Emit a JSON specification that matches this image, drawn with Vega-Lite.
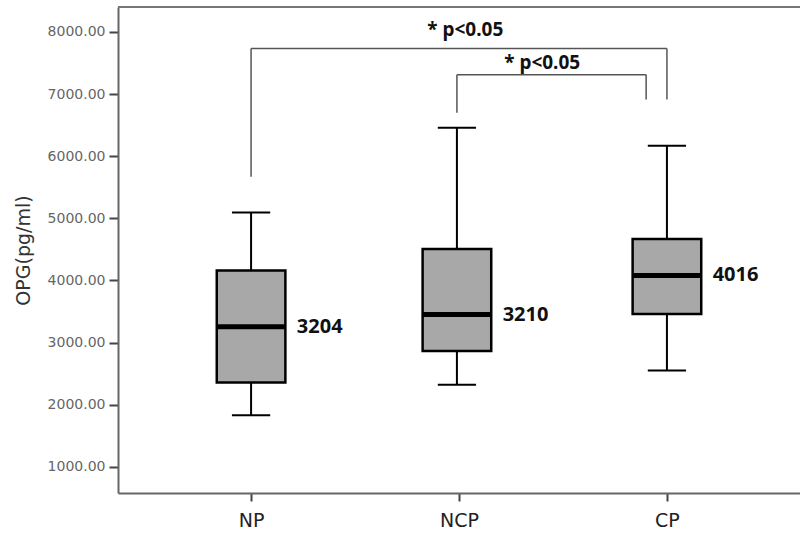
{
  "$schema": "https://vega.github.io/schema/vega-lite/v6.json",
  "width": 682,
  "height": 486,
  "autosize": {"type": "none"},
  "padding": {"left": 118, "top": 7, "right": 0, "bottom": 46},
  "background": "white",
  "config": {"view": {"stroke": null}},
  "datasets": {
    "boxes": [
      {"group": "NP", "pos": 1, "lo": 1833, "q1": 2357, "med": 3254, "q3": 4161, "hi": 5095, "label": "3204"},
      {"group": "NCP", "pos": 1.99, "lo": 2320, "q1": 2863, "med": 3452, "q3": 4506, "hi": 6459, "label": "3210"},
      {"group": "CP", "pos": 3, "lo": 2551, "q1": 3459, "med": 4080, "q3": 4667, "hi": 6169, "label": "4016"}
    ],
    "brackets": [
      {"x": 1, "x2": 1, "y": 5670, "y2": 7731},
      {"x": 1, "x2": 3, "y": 7731, "y2": 7731},
      {"x": 3, "x2": 3, "y": 6910, "y2": 7731},
      {"x": 1.99, "x2": 1.99, "y": 6700, "y2": 7308},
      {"x": 1.99, "x2": 2.9, "y": 7308, "y2": 7308},
      {"x": 2.9, "x2": 2.9, "y": 6910, "y2": 7308}
    ],
    "notes": [
      {"x": 2.03, "y": 8037, "t": "* p<0.05"},
      {"x": 2.40, "y": 7506, "t": "* p<0.05"}
    ]
  },
  "layer": [
    {
      "data": {"name": "boxes"},
      "transform": [
        {"calculate": "datum.pos - 0.165", "as": "bx"},
        {"calculate": "datum.pos + 0.165", "as": "bx2"},
        {"calculate": "datum.pos - 0.092", "as": "cx"},
        {"calculate": "datum.pos + 0.092", "as": "cx2"},
        {"calculate": "datum.pos + 0.22", "as": "lx"}
      ],
      "layer": [
        {
          "mark": {"type": "rule", "color": "black", "strokeWidth": 2},
          "encoding": {
            "x": {"field": "pos", "type": "quantitative",
              "scale": {"domain": [0.36, 3.64], "nice": false, "zero": false},
              "axis": {"values": [1, 2, 3], "labelExpr": "datum.value == 1 ? 'NP' : datum.value == 2 ? 'NCP' : 'CP'",
                "title": null, "grid": false, "domainColor": "#666", "domainWidth": 2, "tickColor": "#444", "tickWidth": 2,
                "tickSize": 8, "labelFontSize": 19, "labelFont": "DejaVu Sans", "labelColor": "#222", "labelPadding": 10}},
            "y": {"field": "lo", "type": "quantitative",
              "scale": {"domain": [580, 8400], "nice": false, "zero": false},
              "axis": {"values": [1000, 2000, 3000, 4000, 5000, 6000, 7000, 8000], "format": ".2f",
                "title": "OPG(pg/ml)", "titleFontSize": 19, "titleFont": "DejaVu Sans", "titleFontWeight": "normal",
                "titleColor": "#333", "titlePadding": 14, "grid": false, "domainColor": "#666", "domainWidth": 2,
                "tickColor": "#444", "tickWidth": 2, "tickSize": 9, "labelFontSize": 14, "labelFont": "DejaVu Sans",
                "labelColor": "#666", "labelPadding": 4}},
            "y2": {"field": "hi"}
          }
        },
        {
          "mark": {"type": "rule", "color": "black", "strokeWidth": 2},
          "encoding": {
            "x": {"field": "cx", "type": "quantitative"},
            "x2": {"field": "cx2"},
            "y": {"field": "hi", "type": "quantitative"}
          }
        },
        {
          "mark": {"type": "rule", "color": "black", "strokeWidth": 2},
          "encoding": {
            "x": {"field": "cx", "type": "quantitative"},
            "x2": {"field": "cx2"},
            "y": {"field": "lo", "type": "quantitative"}
          }
        },
        {
          "mark": {"type": "rect", "fill": "#a8a8a8", "stroke": "black", "strokeWidth": 2.5},
          "encoding": {
            "x": {"field": "bx", "type": "quantitative"},
            "x2": {"field": "bx2"},
            "y": {"field": "q1", "type": "quantitative"},
            "y2": {"field": "q3"}
          }
        },
        {
          "mark": {"type": "rule", "color": "black", "strokeWidth": 5},
          "encoding": {
            "x": {"field": "bx", "type": "quantitative"},
            "x2": {"field": "bx2"},
            "y": {"field": "med", "type": "quantitative"}
          }
        },
        {
          "mark": {"type": "text", "align": "left", "baseline": "middle", "fontSize": 20, "fontWeight": "bold", "font": "Noto Sans", "color": "#111"},
          "encoding": {
            "x": {"field": "lx", "type": "quantitative"},
            "y": {"field": "med", "type": "quantitative"},
            "text": {"field": "label"}
          }
        }
      ]
    },
    {
      "data": {"name": "brackets"},
      "mark": {"type": "rule", "color": "#555", "strokeWidth": 1.5},
      "encoding": {
        "x": {"field": "x", "type": "quantitative"},
        "x2": {"field": "x2"},
        "y": {"field": "y", "type": "quantitative"},
        "y2": {"field": "y2"}
      }
    },
    {
      "data": {"name": "notes"},
      "mark": {"type": "text", "align": "center", "baseline": "middle", "fontSize": 19, "fontWeight": "bold", "font": "Noto Sans", "color": "#111"},
      "encoding": {
        "x": {"field": "x", "type": "quantitative"},
        "y": {"field": "y", "type": "quantitative"},
        "text": {"field": "t"}
      }
    },
    {
      "data": {"values": [{"a": 0}]},
      "mark": {"type": "rule", "color": "#777", "strokeWidth": 2},
      "encoding": {
        "y": {"datum": 8400, "type": "quantitative"}
      }
    }
  ]
}
